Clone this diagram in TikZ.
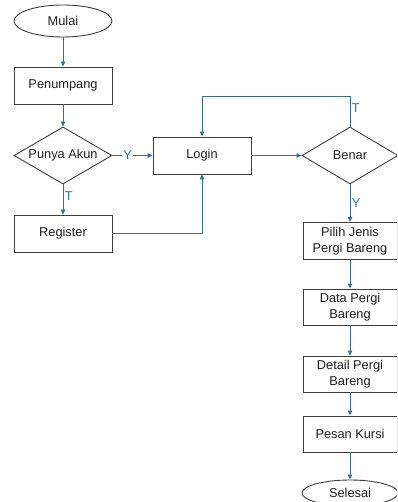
\documentclass[tikz,border=0pt]{standalone}
\usepackage{fontspec}
\setmainfont{Liberation Sans}
\usetikzlibrary{shapes.geometric,arrows.meta}
\definecolor{flow}{RGB}{52,112,152}
\definecolor{outline}{RGB}{62,62,62}
\definecolor{ink}{RGB}{30,30,30}
\tikzset{
  txt/.style={font=\fontsize{12.8}{16}\selectfont, align=center, text=ink, inner sep=0pt},
  base/.style={txt, draw=outline, line width=0.9pt, fill=white},
  procbox/.style={base, rectangle, minimum width=#1, minimum height=37pt},
  procbox/.default=98pt,
  termbox/.style={base, ellipse, minimum width=#1, minimum height=32pt},
  termbox/.default=98pt,
  decbox/.style={draw=outline, line width=0.9pt, diamond, inner sep=0pt, minimum width=#1, minimum height=57pt},
  decbox/.default=98pt,
  flowline/.style={draw=flow, line width=0.9pt, -{Triangle[length=5pt,width=4.5pt]}},
  flowlabel/.style={txt, text=flow, inner sep=1.5pt}
}
\begin{document}
\begin{tikzpicture}[x=1pt,y=-1pt]
  \clip (0,0) rectangle (397,502);
  \fill[white] (0,0) rectangle (397,502);

  % left column
  \node[termbox] (mulai) at (63,21) {Mulai};
  \node[procbox] (penumpang) at (63,85.5) {Penumpang};
  \node[decbox] (punya) at (63,155.5) {};
  \node[txt] at (punya.center) {Punya Akun};
  \node[procbox] (register) at (63,233.5) {Register};

  % middle
  \node[procbox] (login) at (202,155.5) {Login};

  % right column
  \node[decbox=96pt] (benar) at (350,155.5) {};
  \node[txt] at (benar.center) {Benar};
  \node[procbox=94pt] (pilih) at (350,241) {Pilih Jenis\\Pergi Bareng};
  \node[procbox=94pt, minimum height=36pt] (data) at (350,307) {Data Pergi\\Bareng};
  \node[procbox=94pt, minimum height=36pt] (detail) at (350,374) {Detail Pergi\\Bareng};
  \node[procbox=94pt, minimum height=36pt] (pesan) at (350,434) {Pesan Kursi};
  \node[termbox=96pt, minimum height=26pt] (selesai) at (350,493) {Selesai};

  \coordinate (looptop) at (350,96);

  % connectors
  \draw[flowline] (mulai) -- (penumpang);
  \draw[flowline] (penumpang) -- (punya);
  \draw[flowline] (punya.east) -- node[flowlabel, fill=white, pos=0.38] {Y} (login.west);
  \draw[flowline] (punya.south) -- node[flowlabel, anchor=west, pos=0.4] {T} (register.north);
  \draw[flowline] (register.east) -| (login.south);
  \draw[flowline] (login.east) -- (benar.west);
  \draw[flowline] (benar.north) -- node[flowlabel, anchor=west, pos=0.62] {T} (looptop) -| (login.north);
  \draw[flowline] (benar.south) -- node[flowlabel, anchor=west, pos=0.5] {Y} (pilih.north);
  \draw[flowline] (pilih) -- (data);
  \draw[flowline] (data) -- (detail);
  \draw[flowline] (detail) -- (pesan);
  \draw[flowline] (pesan) -- (selesai);
\end{tikzpicture}
\end{document}
